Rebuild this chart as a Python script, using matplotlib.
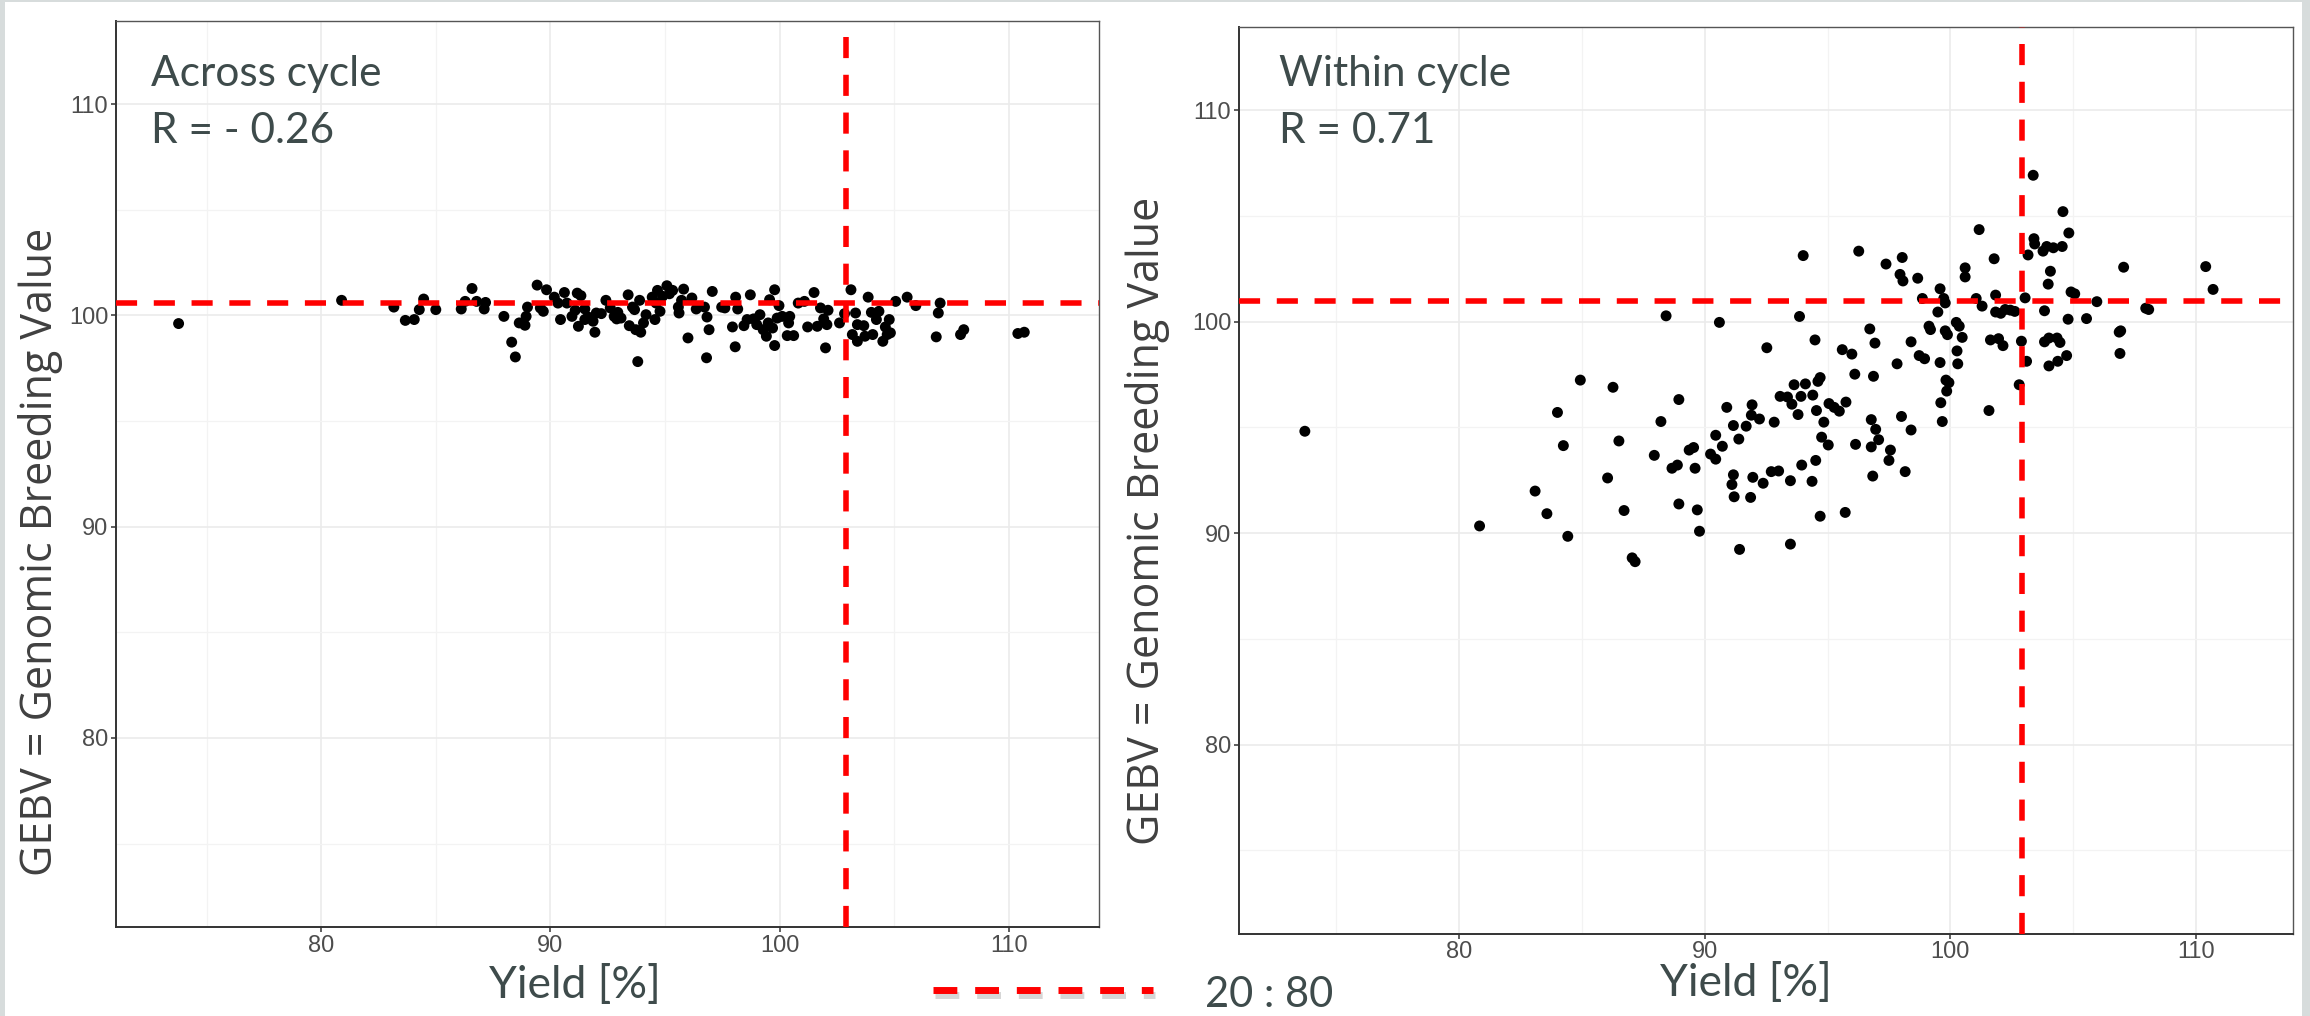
import matplotlib
matplotlib.use('Agg')
import matplotlib.pyplot as plt
import matplotlib.patheffects as pe
from matplotlib.lines import Line2D
from matplotlib.patches import Rectangle

# Across cycle: yield [%] vs GEBV
acr_yield = [
    73.78, 80.89, 83.17, 83.67, 84.06, 84.28, 84.47, 85.00, 86.11, 86.28,
    86.58, 86.78, 87.11, 87.17, 87.97, 88.31, 88.47, 88.64, 88.89, 88.94,
    89.00, 89.42, 89.56, 89.69, 89.83, 90.17, 90.33, 90.44, 90.61, 90.72,
    90.94, 91.08, 91.17, 91.22, 91.33, 91.50, 91.64, 91.86, 91.94, 92.00,
    92.22, 92.42, 92.61, 92.78, 92.89, 92.94, 93.08, 93.39, 93.44, 93.58,
    93.67, 93.72, 93.81, 93.89, 93.94, 94.06, 94.17, 94.44, 94.56, 94.67,
    94.78, 94.89, 95.08, 95.19, 95.33, 95.58, 95.72, 95.81, 96.00, 96.17,
    96.36, 96.72, 96.81, 96.83, 96.92, 97.06, 97.47, 97.61, 97.94, 98.06,
    98.08, 98.17, 98.44, 98.72, 98.86, 99.00, 99.14, 99.42, 99.50, 99.56,
    99.69, 99.78, 99.78, 99.89, 99.97, 100.11, 100.33, 100.39, 100.61, 100.81,
    101.08, 101.22, 101.50, 101.64, 101.78, 101.92, 102.00, 102.11, 102.61, 102.83,
    103.11, 103.17, 103.31, 103.39, 103.39, 103.72, 103.86, 104.00, 104.06, 104.22,
    104.33, 104.50, 104.69, 104.78, 104.83, 105.06, 105.56, 105.94, 106.83, 106.92,
    107.00, 107.89, 108.03, 110.39, 110.67,
    99.28, 100.44, 102.06, 103.67, 104.61, 94.61, 91.50, 95.61, 98.58,
]
acr_gebv = [
    99.61, 100.71, 100.39, 99.76, 99.80, 100.27, 100.77, 100.27, 100.30, 100.66,
    101.27, 100.66, 100.30, 100.61, 99.95, 98.73, 98.03, 99.64, 99.53, 99.95,
    100.39, 101.43, 100.35, 100.19, 101.21, 100.86, 100.58, 99.80, 101.08, 100.58,
    99.95, 100.24, 101.05, 99.48, 100.93, 100.30, 99.92, 99.72, 99.20, 100.11,
    100.08, 100.71, 100.35, 99.95, 99.83, 100.14, 99.87, 100.97, 99.51, 100.39,
    100.27, 99.32, 97.81, 100.71, 99.20, 99.64, 100.03, 100.86, 99.80, 101.18,
    100.19, 100.90, 101.40, 101.02, 101.18, 100.39, 100.71, 101.24, 98.93, 100.82,
    100.30, 100.39, 97.99, 99.92, 99.32, 101.13, 100.39, 100.35, 99.45, 98.51,
    100.86, 100.30, 99.51, 100.97, 99.83, 99.56, 100.03, 99.01, 99.64, 100.74,
    99.40, 101.21, 98.57, 99.87, 100.46, 99.95, 99.04, 99.64, 99.04, 100.58,
    100.66, 99.45, 101.08, 99.48, 100.35, 99.83, 98.46, 100.24, 99.64, 100.08,
    101.21, 99.09, 100.11, 99.56, 98.77, 99.01, 100.86, 100.14, 99.09, 99.80,
    100.19, 98.77, 99.09, 99.80, 99.17, 100.66, 100.86, 100.46, 98.98, 100.11,
    100.58, 99.09, 99.32, 99.14, 99.20,
    99.32, 99.95, 99.56, 99.51, 99.45, 100.58, 99.80, 100.11, 99.80,
]

# Within cycle: yield [%] vs GEBV
win_yield = [
    73.73, 80.84, 83.10, 83.58, 84.01, 84.25, 84.43, 84.94, 86.05, 86.27,
    86.51, 86.72, 87.05, 87.17, 87.95, 88.22, 88.43, 88.67, 88.89, 88.95,
    88.95, 89.37, 89.55, 89.61, 89.70, 89.79, 90.24, 90.45, 90.45, 90.60,
    90.72, 90.90, 91.11, 91.17, 91.17, 91.20, 91.39, 91.42, 91.69, 91.87,
    91.90, 91.93, 91.96, 92.23, 92.38, 92.53, 92.71, 92.83, 93.01, 93.07,
    93.37, 93.49, 93.49, 93.55, 93.64, 93.80, 93.86, 93.92, 93.95, 94.01,
    94.10, 94.37, 94.40, 94.49, 94.52, 94.55, 94.61, 94.70, 94.70, 94.76,
    94.85, 95.03, 95.06, 95.27, 95.48, 95.60, 95.72, 95.75, 95.99, 96.11,
    96.14, 96.27, 96.72, 96.78, 96.78, 96.84, 96.87, 96.93, 96.96, 97.08,
    97.38, 97.50, 97.56, 97.83, 97.95, 98.01, 98.04, 98.07, 98.16, 98.40,
    98.40, 98.67, 98.73, 98.86, 98.95, 99.13, 99.19, 99.49, 99.58, 99.58,
    99.61, 99.67, 99.73, 99.79, 99.79, 99.82, 99.85, 99.88, 99.94, 100.24,
    100.27, 100.30, 100.36, 100.48, 100.60, 100.60, 101.05, 101.17, 101.29, 101.57,
    101.63, 101.78, 101.84, 101.84, 101.96, 102.05, 102.14, 102.23, 102.44, 102.62,
    102.80, 102.89, 103.04, 103.10, 103.16, 103.37, 103.40, 103.43, 103.77, 103.83,
    103.83, 103.92, 103.98, 104.01, 104.01, 104.07, 104.19, 104.34, 104.37, 104.46,
    104.55, 104.58, 104.73, 104.79, 104.82, 104.91, 105.06, 105.54, 105.96, 106.87,
    106.90, 106.93, 107.05, 107.95, 108.07, 110.39, 110.69,
]
win_gebv = [
    94.82, 90.34, 91.99, 90.92, 95.71, 94.14, 89.85, 97.24, 92.61, 96.90,
    94.36, 91.07, 88.83, 88.65, 93.68, 95.28, 100.28, 93.07, 93.22, 96.32,
    91.38, 93.93, 94.05, 93.07, 91.10, 90.09, 93.74, 93.50, 94.63, 99.97,
    94.11, 95.95, 92.30, 92.76, 95.09, 91.72, 94.45, 89.23, 95.06, 91.69,
    95.58, 96.07, 92.64, 95.40, 92.36, 98.77, 92.91, 95.25, 92.94, 96.47,
    96.44, 92.48, 89.48, 96.10, 97.02, 95.61, 100.25, 96.47, 93.22, 103.13,
    97.06, 92.45, 96.53, 99.14, 93.44, 95.80, 97.18, 97.36, 90.80, 94.54,
    95.25, 94.17, 96.13, 95.95, 95.77, 98.68, 90.98, 96.20, 98.47, 97.52,
    94.20, 103.34, 99.66, 95.37, 94.08, 92.70, 97.42, 98.99, 94.91, 94.42,
    102.73, 93.44, 93.93, 98.01, 102.24, 95.52, 103.04, 101.93, 92.91, 99.05,
    94.88, 102.06, 98.40, 101.10, 98.25, 99.79, 99.63, 100.46, 101.56, 98.07,
    96.17, 95.28, 101.10, 100.89, 99.57, 97.24, 96.72, 99.39, 97.12, 99.97,
    98.62, 98.01, 99.79, 99.26, 102.55, 102.12, 101.10, 104.36, 100.74, 95.80,
    99.14, 102.98, 101.26, 100.46, 99.20, 100.40, 98.87, 100.58, 100.55, 100.49,
    97.02, 99.08, 101.13, 98.13, 103.16, 106.93, 103.93, 103.68, 103.34, 100.52,
    99.05, 103.56, 101.78, 99.23, 97.91, 102.39, 103.50, 99.23, 98.13, 99.02,
    103.56, 105.21, 98.40, 100.12, 104.20, 101.41, 101.32, 100.15, 100.95, 99.51,
    98.50, 99.57, 102.58, 100.64, 100.58, 102.61, 101.53,
]

# selection thresholds (dashed lines)
acr_cut = (102.9, 100.6)
win_cut = (102.9, 101.0)

major_ticks = [80, 90, 100, 110]
minor_ticks = [75, 85, 95, 105]
lims = (71.05, 113.93)

TEXT_COL = '#3e4b4b'
RED = '#ff0000'


def create_ax_scatter(ax, x, y, cut, title, rtext, text_y):
    '''Scatter of yield vs GEBV with dashed threshold lines.'''
    ax.set_xlim(*lims)
    ax.set_ylim(*lims)
    ax.set_xticks(major_ticks)
    ax.set_yticks(major_ticks)
    ax.set_xticks(minor_ticks, minor=True)
    ax.set_yticks(minor_ticks, minor=True)
    ax.grid(which='major', color='#ebebeb', lw=1.2, zorder=0)
    ax.grid(which='minor', color='#f3f3f3', lw=0.9, zorder=0)
    ax.set_axisbelow(True)

    ax.tick_params(which='major', length=3.6, width=1.1, color='#333333',
                   labelsize=17, labelcolor='#4d4d4d', pad=2)
    ax.tick_params(which='minor', length=0)
    for lab in ax.get_xticklabels() + ax.get_yticklabels():
        lab.set_fontfamily(['Liberation Sans', 'DejaVu Sans'])

    for side in ['top', 'right']:
        ax.spines[side].set_color('#555555')
        ax.spines[side].set_linewidth(1.0)
    for side in ['left', 'bottom']:
        ax.spines[side].set_color('#333333')
        ax.spines[side].set_linewidth(1.4)

    ax.scatter(x, y, s=62, color='black', edgecolors='none', zorder=3)

    ax.axvline(cut[0], color=RED, lw=4, dashes=(3.8, 3.0), zorder=4)
    ax.axhline(cut[1], color=RED, lw=4, dashes=(3.8, 3.0), zorder=4)

    ax.text(text_y[0], text_y[1], title, transform=ax.transAxes,
            fontsize=30.5, family=['Lato', 'DejaVu Sans'], color=TEXT_COL,
            ha='left', va='baseline')
    ax.text(text_y[0], text_y[2], rtext, transform=ax.transAxes,
            fontsize=30.5, family=['Lato', 'DejaVu Sans'], color=TEXT_COL,
            ha='left', va='baseline')


fig = plt.figure(figsize=(23.1, 10.16), dpi=100)
fig.patch.set_facecolor('#d7dcdc')
fig.add_artist(Rectangle((5 / 2310, 0), 2297 / 2310, 1014 / 1016,
                         transform=fig.transFigure, facecolor='white',
                         edgecolor='none', zorder=-10))

ax1 = fig.add_axes([0.05022, 0.08760, 0.42554, 0.89173])
ax2 = fig.add_axes([0.53636, 0.08100, 0.45615, 0.89213])

create_ax_scatter(ax1, acr_yield, acr_gebv, acr_cut, 'Across cycle',
                  'R = - 0.26', (0.036, 0.928, 0.865))
create_ax_scatter(ax2, win_yield, win_gebv, win_cut, 'Within cycle',
                  'R = 0.71', (0.038, 0.935, 0.872))

# axis labels placed like slide text boxes
lab_font = ['Lato', 'DejaVu Sans']
fig.text(575 / 2310, 18 / 1016, 'Yield [%]', fontsize=32, family=lab_font,
         color=TEXT_COL, ha='center', va='baseline')
fig.text(1746 / 2310, 20 / 1016, 'Yield [%]', fontsize=32, family=lab_font,
         color=TEXT_COL, ha='center', va='baseline')

ylab_font = ['Open Sans', 'DejaVu Sans']
fig.text(41 / 2310, 0.4567, 'GEBV = Genomic Breeding Value', rotation=90,
         fontsize=31, family=ylab_font, color='#404040',
         ha='center', va='center')
fig.text(1148 / 2310, 0.4872, 'GEBV = Genomic Breeding Value', rotation=90,
         fontsize=31, family=ylab_font, color='#404040',
         ha='center', va='center')

# legend: dashed red line with shadow + ratio
leg_y = (1016 - 990) / 1016
leg = Line2D([933 / 2310, 1153 / 2310], [leg_y, leg_y], transform=fig.transFigure,
             color=RED, lw=5, dashes=(3.43, 2.57), solid_capstyle='butt',
             path_effects=[pe.SimpleLineShadow(offset=(1.5, -3.6),
                                               shadow_color='#8a8a8a', alpha=0.35),
                           pe.Normal()])
fig.add_artist(leg)
fig.text(1205 / 2310, 9 / 1016, '20 : 80', fontsize=30, family=lab_font,
         color=TEXT_COL, ha='left', va='baseline')

fig.savefig('out.png', dpi=100, facecolor=fig.get_facecolor())
